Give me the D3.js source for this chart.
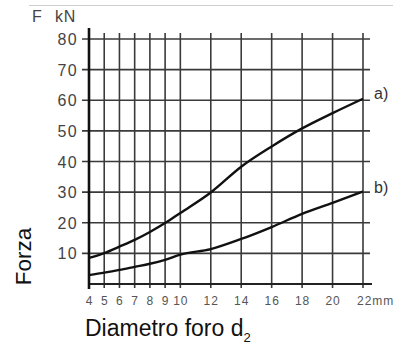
<!DOCTYPE html>
<html><head><meta charset="utf-8">
<script src="https://cdn.jsdelivr.net/npm/d3@7"></script>
<style>body{margin:0;background:#fff;}svg{display:block;}</style>
</head><body>
<script>
const xTicks = [4,5,6,7,8,9,10,12,14,16,18,20,22];
const xTickLabels = ["4","5","6","7","8","9","10","12","14","16","18","20","22mm"];
const yTicks = [10,20,30,40,50,60,70,80];
const diam = [4,5,6,7,8,9,10,12,14,16,18,20,22];
const seriesA = [8.5,10.1,12.2,14.4,17,19.9,23.2,29.9,38.3,44.9,50.8,55.8,60.5];
const seriesB = [2.9,3.7,4.6,5.6,6.6,7.9,9.6,11.4,14.7,18.6,22.9,26.5,30.2];
const seriesLabels = ["a)","b)"];

const W=393,H=352;
const svg=d3.select("body").append("svg").attr("width",W).attr("height",H);
const x=d3.scaleLinear().domain([4,22]).range([89,363]);
const y=d3.scaleLinear().domain([0,80]).range([284,39]);
const font="Liberation Sans, Arial, Helvetica, sans-serif";

svg.append("line").attr("x1",29).attr("x2",393).attr("y1",5.5).attr("y2",5.5).attr("stroke","#cfcfcf").attr("stroke-width",1);

// vertical grid
svg.append("g").selectAll("line").data(xTicks.slice(1)).join("line")
  .attr("x1",d=>x(d)).attr("x2",d=>x(d)).attr("y1",33).attr("y2",288)
  .attr("stroke","#3a3a3a").attr("stroke-width",1.6);
// horizontal grid
svg.append("g").selectAll("line").data(yTicks).join("line")
  .attr("x1",82).attr("x2",370).attr("y1",d=>y(d)).attr("y2",d=>y(d))
  .attr("stroke","#3a3a3a").attr("stroke-width",1.6);
// x axis line
svg.append("line").attr("x1",89).attr("x2",372).attr("y1",y(0)).attr("y2",y(0)).attr("stroke","#222").attr("stroke-width",1.8);
// y axis line
svg.append("line").attr("x1",x(4)).attr("x2",x(4)).attr("y1",28).attr("y2",289).attr("stroke","#111").attr("stroke-width",2.6);

// y tick labels
svg.append("g").selectAll("text").data(yTicks).join("text")
  .attr("x",78).attr("y",d=>y(d)+6).attr("text-anchor","end")
  .attr("font-family",font).attr("font-size",16).attr("letter-spacing",1.3).attr("fill","#444").text(d=>d);
// x tick labels
svg.append("g").selectAll("text").data(xTicks).join("text")
  .attr("x",d=>x(d)).attr("y",305).attr("text-anchor",(d,i)=>i===xTicks.length-1?"start":"middle")
  .attr("dx",(d,i)=>i===xTicks.length-1?-6:0.5)
  .attr("font-family",font).attr("font-size",12).attr("letter-spacing",1).attr("fill","#555").text((d,i)=>xTickLabels[i]);

// curves
const line=d3.line().x(d=>x(d[0])).y(d=>y(d[1])).curve(d3.curveMonotoneX);
[seriesA,seriesB].forEach((s,k)=>{
  const pts=diam.map((d,i)=>[d,s[i]]);
  svg.append("path").attr("d",line(pts)).attr("fill","none").attr("stroke","#111").attr("stroke-width",2.4);
  svg.append("text").attr("x",374).attr("y",y(s[s.length-1])+(k===0?0:1.5)).attr("font-family",font)
    .attr("font-size",16).attr("fill","#333").text(seriesLabels[k]);
});

// titles
svg.append("text").attr("x",32).attr("y",21.5).attr("font-family",font).attr("font-size",16).attr("fill","#444").text("F");
svg.append("text").attr("x",55).attr("y",21.5).attr("font-family",font).attr("font-size",16).attr("letter-spacing",0.8).attr("fill","#444").text("kN");
svg.append("text").attr("transform","translate(31,256.5) rotate(-90)").attr("text-anchor","middle")
  .attr("font-family",font).attr("font-size",22.5).attr("fill","#111").text("Forza");
const t=svg.append("text").attr("x",85).attr("y",336).attr("font-family",font).attr("font-size",23).attr("fill","#111");
t.append("tspan").text("Diametro foro d");
t.append("tspan").attr("dy",6).attr("font-size",13).text("2");
</script>
</body></html>
